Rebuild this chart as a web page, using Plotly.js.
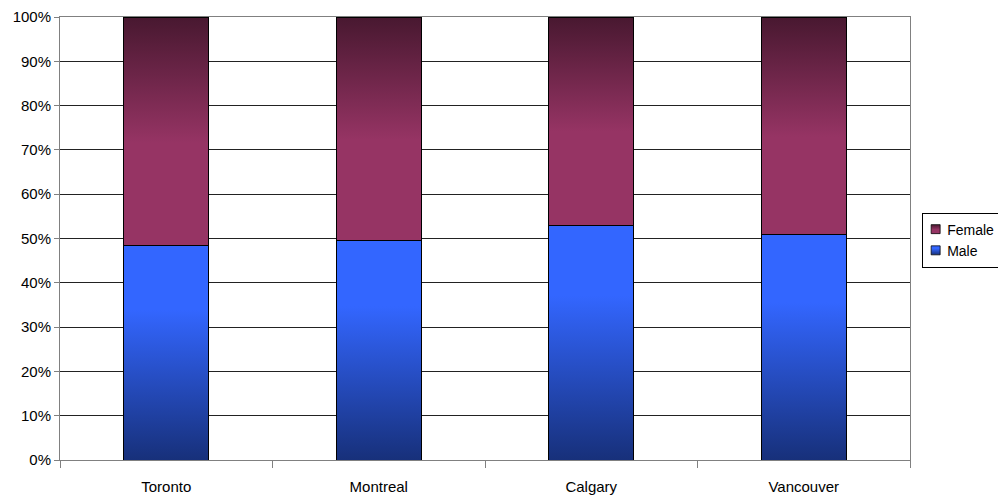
<!DOCTYPE html>
<html>
<head>
<meta charset="utf-8">
<script src="https://cdn.plot.ly/plotly-3.0.1.min.js"></script>
<style>html,body{margin:0;padding:0;background:#fff;}#chart{width:998px;height:498px;}</style>
</head>
<body>
<div id="chart"></div>
<script>
var cities = ["Toronto", "Montreal", "Calgary", "Vancouver"];
var malePct = [48.4, 49.6, 53.0, 50.8];
var femalePct = [51.6, 50.4, 47.0, 49.2];
var yTickVals = [0, 10, 20, 30, 40, 50, 60, 70, 80, 90, 100];

var traces = [
  {type: "bar", name: "Male", x: cities, y: malePct, width: 0.4,
   marker: {color: "#3366ff", line: {color: "#000000", width: 1}}},
  {type: "bar", name: "Female", x: cities, y: femalePct, width: 0.4,
   marker: {color: "#963464", line: {color: "#000000", width: 1}}}
];

var layout = {
  width: 998, height: 498,
  margin: {l: 60, r: 88, t: 17, b: 38},
  barmode: "stack",
  showlegend: true,
  hovermode: false,
  paper_bgcolor: "#ffffff",
  plot_bgcolor: "#ffffff",
  font: {family: "Liberation Sans, Arial, sans-serif", size: 15, color: "#000000"},
  xaxis: {
    type: "category",
    showline: true, linecolor: "#808080", linewidth: 1, mirror: true,
    ticks: "outside", tickson: "boundaries", ticklen: 7, tickcolor: "#808080",
    ticklabelstandoff: 13,
    showgrid: false,
    tickfont: {size: 15}
  },
  yaxis: {
    range: [0, 100],
    tickvals: yTickVals,
    ticktext: yTickVals.map(function(v){ return v + "%"; }),
    showline: true, linecolor: "#808080", linewidth: 1, mirror: true,
    ticks: "outside", ticklen: 5, tickcolor: "#808080",
    showgrid: true, gridcolor: "#222222", gridwidth: 1,
    zeroline: false,
    tickfont: {size: 15}
  },
  legend: {
    xref: "container", yref: "container",
    x: 0.924, xanchor: "left", y: 0.518, yanchor: "middle",
    traceorder: "reversed",
    bordercolor: "#000000", borderwidth: 1, bgcolor: "#ffffff",
    font: {size: 14},
    itemwidth: 30, tracegroupgap: 0
  }
};

Plotly.newPlot("chart", traces, layout, {displayModeBar: false, staticPlot: true}).then(function(gd){
  var svg = gd.querySelector("svg.main-svg");
  var ns = "http://www.w3.org/2000/svg";
  var defs = document.createElementNS(ns, "defs");
  function grad(id, stops){
    var g = document.createElementNS(ns, "linearGradient");
    g.setAttribute("id", id);
    g.setAttribute("x1", "0"); g.setAttribute("y1", "0");
    g.setAttribute("x2", "0"); g.setAttribute("y2", "1");
    stops.forEach(function(s){
      var st = document.createElementNS(ns, "stop");
      st.setAttribute("offset", s[0]);
      st.setAttribute("stop-color", s[1]);
      g.appendChild(st);
    });
    defs.appendChild(g);
  }
  grad("gMale", [[0, "#3366ff"], [0.3, "#3366ff"], [1, "#17307a"]]);
  grad("gFemale", [[0, "#481830"], [0.55, "#963464"], [1, "#963464"]]);
  svg.insertBefore(defs, svg.firstChild);
  var traceGroups = gd.querySelectorAll(".barlayer .trace");
  var ids = ["gMale", "gFemale"];
  traceGroups.forEach(function(tg, i){
    tg.querySelectorAll("path").forEach(function(p){
      p.style.fill = "url(#" + ids[i] + ")";
    });
  });
  // compact legend to match reference layout
  var maxTextRight = 0;
  var legendTraces = gd.querySelectorAll(".legend .traces");
  legendTraces.forEach(function(lt){
    var txt = lt.querySelector("text.legendtext");
    var name = txt ? txt.textContent : "";
    lt.querySelectorAll(".legendpoints path").forEach(function(p){
      p.style.fill = "url(#" + (name === "Male" ? "gMale" : "gFemale") + ")";
    });
    if (txt) {
      txt.setAttribute("x", 24);
      var tb = txt.getBBox();
      maxTextRight = Math.max(maxTextRight, 24 + tb.width);
    }
    var layers = lt.querySelector(".layers");
    if (layers) {
      var bb = layers.getBBox();
      var cx = bb.x + bb.width / 2, cy = bb.y + bb.height / 2;
      var s = 0.75;
      layers.setAttribute("transform", "translate(" + (12.5 - s * cx) + "," + ((1 - s) * cy) + ") scale(" + s + ")");
    }
  });
  var bg = gd.querySelector(".legend rect.bg");
  if (bg && maxTextRight > 0) {
    bg.setAttribute("width", Math.ceil(maxTextRight + 5));
  }
});
</script>
</body>
</html>
